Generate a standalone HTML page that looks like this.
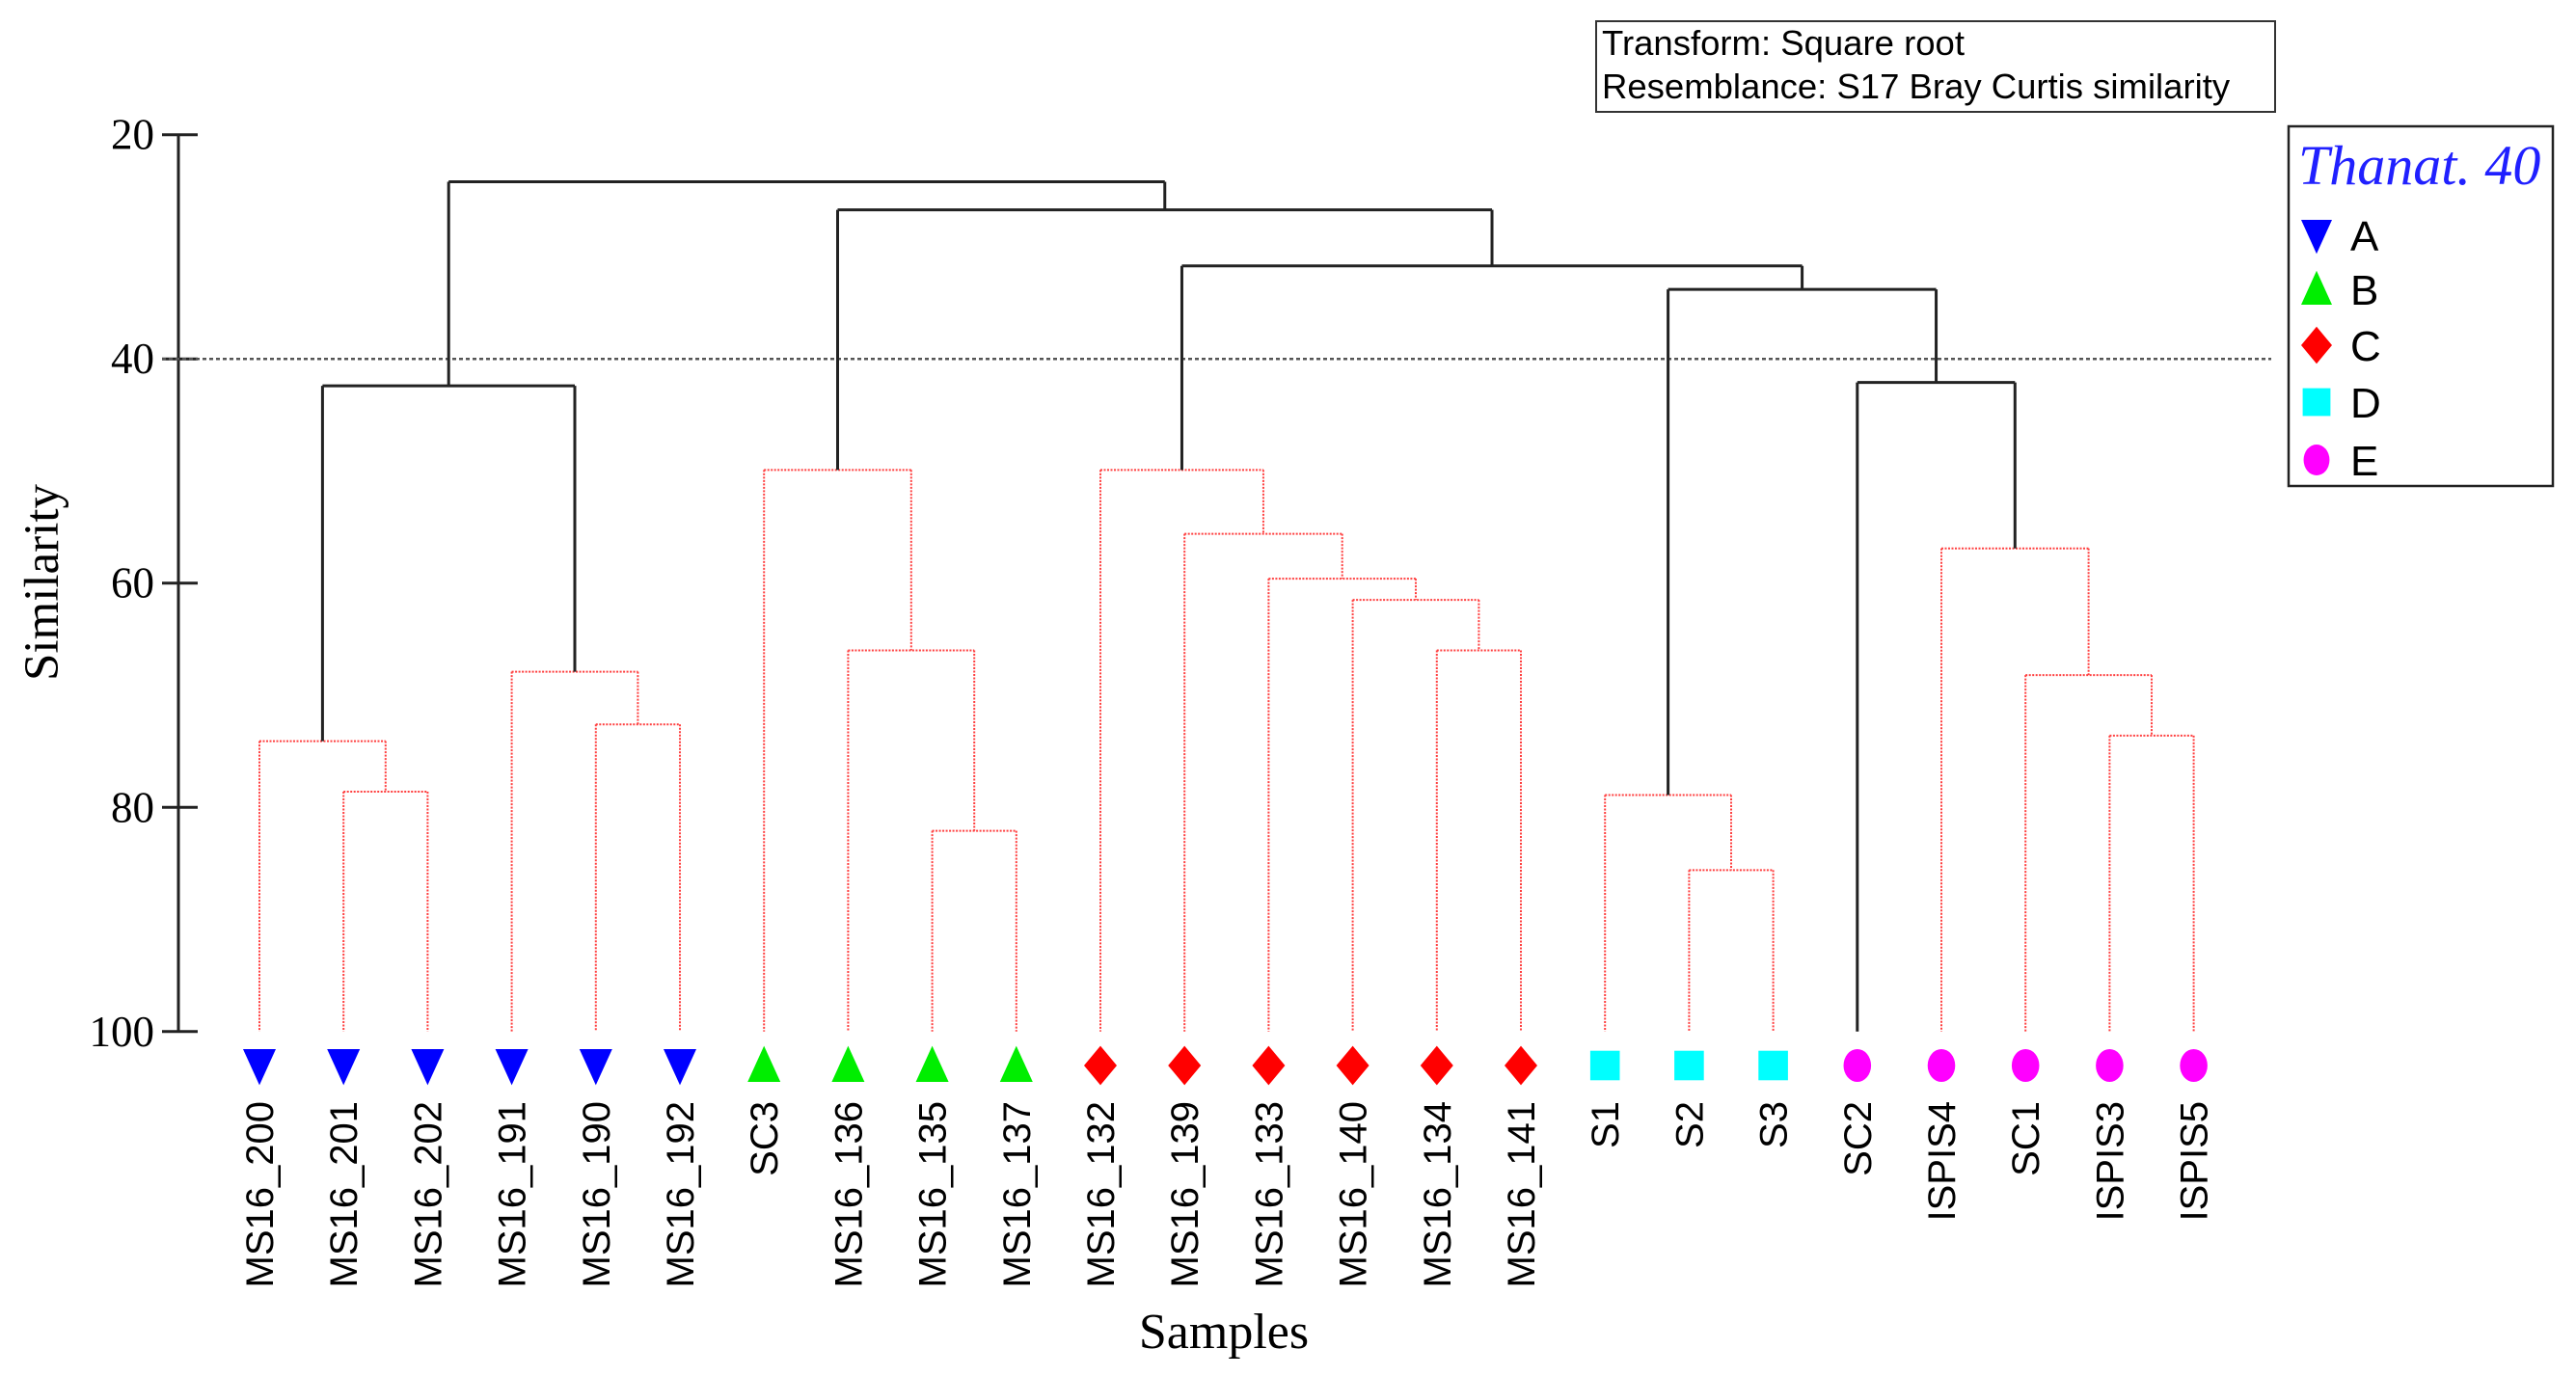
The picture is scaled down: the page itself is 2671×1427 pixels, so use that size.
<!DOCTYPE html>
<html><head><meta charset="utf-8"><style>
html,body{margin:0;padding:0;background:#fff;}
svg{display:block;}
</style></head><body>
<svg id="chart" xmlns="http://www.w3.org/2000/svg" width="2671" height="1427" viewBox="0 0 2671 1427">
<rect x="0" y="0" width="2671" height="1427" fill="#fff"/>
<g id="axis"></g>
<g id="tree"></g>
<g id="leaves"></g>
<text x="60" y="604" transform="rotate(-90 60 604)" text-anchor="middle" font-family="Liberation Serif, serif" font-size="51">Similarity</text>
<text x="1269" y="1398" text-anchor="middle" font-family="Liberation Serif, serif" font-size="52">Samples</text>
<g>
<rect x="1655" y="22" width="704" height="94" fill="#fff" stroke="#333" stroke-width="2"/>
<text x="1661" y="57" font-family="Liberation Sans, sans-serif" font-size="36.5">Transform: Square root</text>
<text x="1661" y="102" font-family="Liberation Sans, sans-serif" font-size="36.5">Resemblance: S17 Bray Curtis similarity</text>
</g>
<g id="legend">
<rect x="2373" y="131" width="274" height="373" fill="#fff" stroke="#222" stroke-width="2.5"/>
<text x="2383" y="191" font-family="Liberation Serif, serif" font-style="italic" font-size="58" fill="#2020ff">Thanat. 40</text>
</g>
</svg>
<script>
const ticks = [20, 40, 60, 80, 100];
const leafLabels = ["MS16_200","MS16_201","MS16_202","MS16_191","MS16_190","MS16_192","SC3","MS16_136","MS16_135","MS16_137","MS16_132","MS16_139","MS16_133","MS16_140","MS16_134","MS16_141","S1","S2","S3","SC2","ISPIS4","SC1","ISPIS3","ISPIS5"];
const leafGroups = ["A","A","A","A","A","A","B","B","B","B","C","C","C","C","C","C","D","D","D","E","E","E","E","E"];
// merges: [childA, childB, similarity, significant]; leaf indices 0..23, nodes 24+
const merges = [
 [1,2,78.6,false],   //24
 [0,24,74.1,false],  //25
 [4,5,72.6,false],   //26
 [3,26,67.9,false],  //27
 [25,27,42.4,true],  //28 A
 [8,9,82.1,false],   //29
 [7,29,66.0,false],  //30
 [6,30,49.9,false],  //31 B
 [14,15,66.0,false], //32
 [13,32,61.5,false], //33
 [12,33,59.6,false], //34
 [11,34,55.6,false], //35
 [10,35,49.9,false], //36 C
 [17,18,85.6,false], //37
 [16,37,78.9,false], //38 D
 [22,23,73.6,false], //39
 [21,39,68.2,false], //40
 [20,40,56.9,false], //41
 [19,41,42.1,true],  //42 E
 [38,42,33.8,true],  //43
 [36,43,31.7,true],  //44
 [31,44,26.7,true],  //45
 [28,45,24.2,true]   //46
];
const cutLevel = 40;
const groupNames = ["A","B","C","D","E"];
const groupColors = {A:"#0000ff",B:"#00ee00",C:"#ff0000",D:"#00ffff",E:"#ff00ff"};

const NS="http://www.w3.org/2000/svg";
const yScale = v => 139.7 + (v-20)*11.626;
const xScale = i => 269 + i*87.2;
function mk(tag, attrs, parent){const e=document.createElementNS(NS,tag);for(const k in attrs)e.setAttribute(k,attrs[k]);parent.appendChild(e);return e;}

const axis=document.getElementById('axis');
let e=mk('line',{x1:185,y1:yScale(20),x2:185,y2:yScale(100),stroke:'#222','stroke-width':3},axis);


ticks.forEach(t=>{
  const y=yScale(t);
  let l=mk('line',{x1:168,y1:y,x2:205,y2:y,stroke:'#222','stroke-width':3},axis);
  
  
  let tx=mk('text',{x:160,y:y+15,'text-anchor':'end','font-family':'Liberation Serif, serif','font-size':45},axis);
  tx.textContent=t;
  
  
});
let cl=mk('line',{x1:168,y1:yScale(cutLevel),x2:2355,y2:yScale(cutLevel),stroke:'#555','stroke-width':2.5,'stroke-dasharray':'4 3'},axis);



const tree=document.getElementById('tree');
const nx=[], ny=[];
leafLabels.forEach((_,i)=>{nx[i]=xScale(i);ny[i]=yScale(100);});
function seg(x1,y1,x2,y2,sig){
  const s=sig?{stroke:'#222','stroke-width':3}:{stroke:'#ff4040','stroke-width':2,'stroke-dasharray':'2 1.5'};
  const l=mk('line',Object.assign({x1,y1,x2,y2},s),tree);
  
  
}
merges.forEach((m,k)=>{
  const id=leafLabels.length+k;
  const [a,b,v,sig]=m;
  const y=yScale(v);
  nx[id]=(nx[a]+nx[b])/2; ny[id]=y;
  seg(nx[a],y,nx[b],y,sig);
  seg(nx[a],y,nx[a],ny[a],sig);
  seg(nx[b],y,nx[b],ny[b],sig);
});

function marker(cx,cy,grp,parent,sz){
  const c=groupColors[grp]; let el;
  if(grp==='A') el=mk('polygon',{points:`${cx-sz*0.5},${cy-sz*0.5} ${cx+sz*0.5},${cy-sz*0.5} ${cx},${cy+sz*0.6}`,fill:c},parent);
  else if(grp==='B') el=mk('polygon',{points:`${cx-sz*0.5},${cy+sz*0.5} ${cx+sz*0.5},${cy+sz*0.5} ${cx},${cy-sz*0.6}`,fill:c},parent);
  else if(grp==='C') el=mk('polygon',{points:`${cx},${cy-sz*0.6} ${cx+sz*0.5},${cy} ${cx},${cy+sz*0.6} ${cx-sz*0.5},${cy}`,fill:c},parent);
  else if(grp==='D') el=mk('rect',{x:cx-sz*0.45,y:cy-sz*0.45,width:sz*0.9,height:sz*0.9,fill:c},parent);
  else el=mk('ellipse',{cx,cy,rx:sz*0.42,ry:sz*0.5,fill:c},parent);
  return el;
}
const leaves=document.getElementById('leaves');
leafLabels.forEach((lab,i)=>{
  const x=xScale(i);
  const m=marker(x,1105,leafGroups[i],leaves,34);
  
  
  const t=mk('text',{x:x+14,y:1142,transform:`rotate(-90 ${x+14} 1142)`,'text-anchor':'end','font-family':'Liberation Sans, sans-serif','font-size':40},leaves);
  t.textContent=lab;
  
  
});
const legend=document.getElementById('legend');
const legY=[244,300,358,417,477];
groupNames.forEach((g,i)=>{
  const m=marker(2402,legY[i],g,legend,32);
  
  
  const t=mk('text',{x:2437,y:legY[i]+16,'font-family':'Liberation Sans, sans-serif','font-size':44},legend);
  t.textContent=g;
  
  
});
</script>
</body></html>
